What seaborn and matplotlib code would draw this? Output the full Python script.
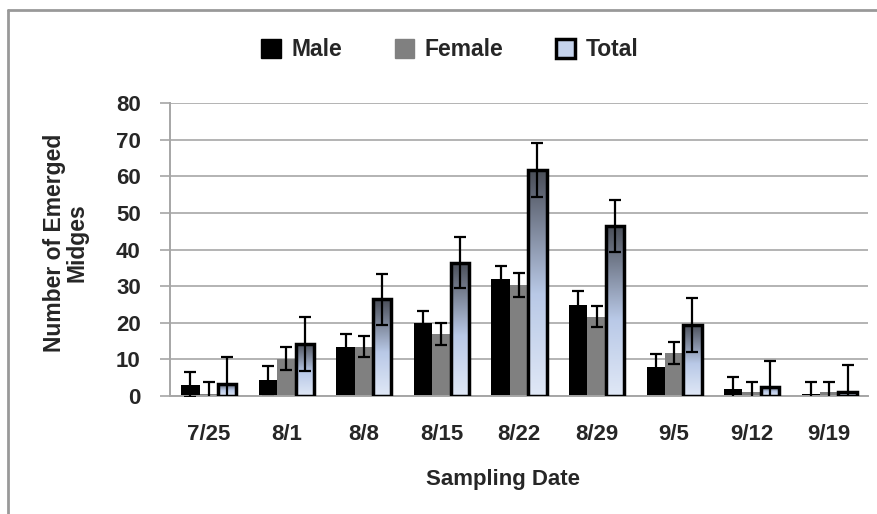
import numpy as np
import pandas as pd
import matplotlib
matplotlib.use("Agg")
import matplotlib.pyplot as plt
from matplotlib.colors import LinearSegmentedColormap
from matplotlib.patches import Patch
from matplotlib.lines import Line2D
import seaborn as sns

# Data
dates = ["7/25", "8/1", "8/8", "8/15", "8/22", "8/29", "9/5", "9/12", "9/19"]
male = [3.1, 4.4, 13.5, 19.9, 31.9, 24.9, 8.0, 1.8, 0.5]
female = [0.5, 10.2, 13.5, 16.9, 30.3, 21.7, 11.8, 1.1, 1.0]
total = [3.3, 14.2, 26.4, 36.4, 61.7, 46.4, 19.4, 2.5, 1.2]
male_err = [3.5, 3.8, 3.4, 3.4, 3.6, 3.8, 3.5, 3.5, 3.4]
female_err = [3.3, 3.1, 2.9, 3.1, 3.4, 2.9, 3.0, 2.8, 2.9]
total_err = [7.3, 7.3, 6.9, 7.0, 7.3, 7.0, 7.3, 7.1, 7.3]
groups = ["Male", "Female", "Total"]

sns.set_theme(style="white")
plt.rcParams["font.family"] = ["Liberation Sans", "DejaVu Sans"]
plt.rcParams["font.weight"] = "bold"

df = pd.DataFrame({
    "date": dates * 3,
    "group": ["Male"] * 9 + ["Female"] * 9 + ["Total"] * 9,
    "count": male + female + total,
})

fig = plt.figure(figsize=(8.78, 5.14), dpi=100)
ax = fig.add_axes([170 / 878, 1 - 396 / 514, 698 / 878, 293 / 514])

palette = {"Male": "#000000", "Female": "#808080", "Total": "#c5d3ec"}
sns.barplot(data=df, x="date", y="count", hue="group", hue_order=groups,
            palette=palette, saturation=1, width=0.71, errorbar=None,
            linewidth=0, legend=False, ax=ax)

# gradient fill for the Total bars
grad = LinearSegmentedColormap.from_list(
    "tot", [(0, "#e0e8f6"), (0.45, "#b9c9e7"), (1, "#4a4e58")])
col = np.linspace(0, 1, 256).reshape(-1, 1)
for bar in ax.containers[2]:
    x0, w, h = bar.get_x(), bar.get_width(), bar.get_height()
    im = ax.imshow(col, cmap=grad, origin="lower", aspect="auto",
                   extent=[x0, x0 + w, 0, h], zorder=2)
    im.set_clip_path(bar)
    bar.set_facecolor("none")
    bar.set_edgecolor("black")
    bar.set_linewidth(2.5)
    bar.set_zorder(3)

errs = [male_err, female_err, total_err]
for cont, err in zip(ax.containers, errs):
    xs = [b.get_x() + b.get_width() / 2 for b in cont]
    ys = [b.get_height() for b in cont]
    ax.errorbar(xs, ys, yerr=err, fmt="none", ecolor="black",
                elinewidth=1.6, capsize=4, capthick=1.6, zorder=4)

ax.set_xlim(-0.5, len(dates) - 0.5)
ax.set_ylim(0, 80)
ax.set_yticks(range(0, 81, 10))
ax.set_axisbelow(True)
ax.yaxis.grid(True, color="#b3b3b3", linewidth=1.4)
ax.xaxis.grid(False)
for s in ["top", "right"]:
    ax.spines[s].set_visible(False)
for s in ["left", "bottom"]:
    ax.spines[s].set_color("#a6a6a6")
    ax.spines[s].set_linewidth(1.4)

ax.set_xticks(np.arange(-0.5, len(dates), 1.0), minor=True)
ax.tick_params(axis="x", which="major", length=0, pad=20, labelsize=16)
ax.tick_params(axis="x", which="minor", length=8, width=1.2,
               color="#a6a6a6", direction="out")
ax.tick_params(axis="y", length=7, width=1.2, color="#a6a6a6",
               direction="out", left=True, pad=14, labelsize=16)
for lab in ax.get_xticklabels() + ax.get_yticklabels():
    lab.set_fontweight("bold")

ax.set_xlabel("Sampling Date", fontsize=16, fontweight="bold", labelpad=14)
ax.xaxis.set_label_coords((503 - 170) / 698, -0.25)
ax.set_ylabel("")
fig.text(66 / 878, 1 - 243 / 514, "Number of Emerged\nMidges", rotation=90,
         ha="center", va="center", ma="center", fontsize=16.5,
         fontweight="bold", linespacing=1.0)

handles = [
    Patch(facecolor="#000000", edgecolor="#000000", linewidth=1),
    Patch(facecolor="#808080", edgecolor="#808080", linewidth=1),
    Patch(facecolor="#c5d3ec", edgecolor="black", linewidth=2.5),
]
fig.legend(handles, groups, loc="center", bbox_to_anchor=(450 / 878, 1 - 50 / 514),
           ncol=3, frameon=False, prop={"size": 16.5, "weight": "bold"},
           handlelength=0.85, handleheight=0.85, handletextpad=0.45,
           columnspacing=2.3)

# outer frame (top and left edges visible)
fig.add_artist(Line2D([8 / 878, 8 / 878], [0, 1 - 10 / 514],
                      transform=fig.transFigure, color="#999999", linewidth=2))
fig.add_artist(Line2D([8 / 878, 1], [1 - 10 / 514, 1 - 10 / 514],
                      transform=fig.transFigure, color="#999999", linewidth=2))

fig.savefig("out.png", dpi=100)
